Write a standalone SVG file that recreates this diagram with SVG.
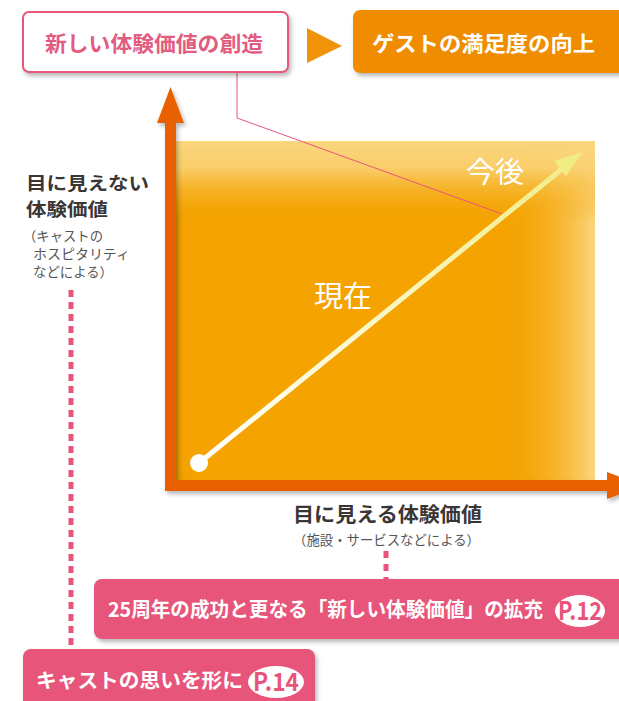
<svg xmlns="http://www.w3.org/2000/svg" width="619" height="701" viewBox="0 0 619 701">
<defs>
<style>
.jp{font-family:"Noto Sans CJK JP","Noto Sans",sans-serif}
.b{font-weight:700}
.dark{fill:#3a3636}
.wt{fill:#ffffff}
.pk{fill:#e8547a}
.sm{fill:#555555;font-size:13.5px}
</style>
<filter id="sh" x="-10%" y="-20%" width="125%" height="150%">
<feDropShadow dx="2" dy="3" stdDeviation="2" flood-color="#000" flood-opacity="0.28"/>
</filter>
<linearGradient id="vg" x1="0" y1="0" x2="0" y2="1">
<stop offset="0" stop-color="#fbd67e" stop-opacity="1"/>
<stop offset="0.08" stop-color="#fad275" stop-opacity="0.9"/>
<stop offset="0.24" stop-color="#f4a300" stop-opacity="0"/>
</linearGradient>
<linearGradient id="hg" x1="0" y1="0" x2="1" y2="0">
<stop offset="0" stop-color="#d98a00" stop-opacity="0.6"/>
<stop offset="0.03" stop-color="#f4a300" stop-opacity="0"/>
<stop offset="0.77" stop-color="#f4a300" stop-opacity="0"/>
<stop offset="1" stop-color="#fbd67e" stop-opacity="1"/>
</linearGradient>
<linearGradient id="ag" gradientUnits="userSpaceOnUse" x1="199" y1="463" x2="583" y2="152">
<stop offset="0" stop-color="#ffffff"/>
<stop offset="1" stop-color="#f2ec84"/>
</linearGradient>
</defs>
<rect width="619" height="701" fill="#ffffff"/>

<g id="chart-area">
<rect x="176" y="141" width="419" height="340" fill="#f4a300"/>
<rect x="176" y="141" width="419" height="340" fill="url(#hg)"/>
<rect x="176" y="141" width="419" height="340" fill="url(#vg)"/>
</g>

<g id="connectors">
<path d="M237,72 V118 L502,214" fill="none" stroke="#e8547a" stroke-width="1"/>
<line x1="71" y1="290" x2="71" y2="646" stroke="#e8547a" stroke-width="5" stroke-dasharray="7 5"/>
<line x1="386" y1="551" x2="386" y2="579" stroke="#e8547a" stroke-width="5" stroke-dasharray="7 6"/>
<polygon points="307,28 342,46 307,63" fill="#f0930a"/>
<g id="axes" filter="url(#sh)">
<rect x="165" y="120" width="11" height="371" fill="#e86100"/>
<polygon points="170.5,87 184,123 157,123" fill="#e86100"/>
<rect x="165" y="480" width="445" height="11" fill="#e86100"/>
<polygon points="607,472 643,485.5 607,499" fill="#e86100"/>
</g>
<line x1="199" y1="463" x2="562" y2="169" stroke="url(#ag)" stroke-width="5"/>
<polygon points="583,152 566,176 554,161" fill="#f2ec84"/>
<circle cx="199" cy="463" r="9" fill="#ffffff"/>
</g>

<g id="label-now">
<text x="343" y="307" class="jp wt" font-size="29" text-anchor="middle">現在</text>
</g>
<g id="label-future">
<text x="495" y="183" class="jp wt" font-size="29" text-anchor="middle">今後</text>
</g>

<g id="node-new-value">
<rect x="23" y="12" width="265" height="60" rx="6" fill="#ffffff" stroke="#e8567a" stroke-width="2" filter="url(#sh)"/>
<text x="154" y="51" class="jp b" fill="#e45b80" font-size="21" text-anchor="middle" textLength="218" lengthAdjust="spacingAndGlyphs">新しい体験価値の創造</text>
</g>

<g id="node-guest">
<rect x="353" y="10" width="280" height="63" rx="7" fill="#f08c00" filter="url(#sh)"/>
<text x="372" y="51" class="jp b wt" font-size="21" textLength="223" lengthAdjust="spacingAndGlyphs">ゲストの満足度の向上</text>
</g>

<g id="label-invisible">
<text x="26" y="190" class="jp b dark" font-size="18" textLength="123" lengthAdjust="spacingAndGlyphs">目に見えない</text>
<text x="26" y="216" class="jp b dark" font-size="18" textLength="82" lengthAdjust="spacingAndGlyphs">体験価値</text>
<text x="23" y="241" class="jp sm" textLength="80" lengthAdjust="spacingAndGlyphs">（キャストの</text>
<text x="33" y="259" class="jp sm" textLength="97" lengthAdjust="spacingAndGlyphs">ホスピタリティ</text>
<text x="33" y="277" class="jp sm" textLength="80" lengthAdjust="spacingAndGlyphs">などによる）</text>
</g>

<g id="label-visible">
<text x="293" y="522" class="jp b dark" font-size="20" textLength="189" lengthAdjust="spacingAndGlyphs">目に見える体験価値</text>
<text x="293" y="545" class="jp sm" textLength="187" lengthAdjust="spacingAndGlyphs">（施設・サービスなどによる）</text>
</g>

<g id="node-p12">
<rect x="94" y="579" width="540" height="60" rx="8" fill="#e8547a" filter="url(#sh)"/>
<text x="108" y="617" class="jp b wt" font-size="20" textLength="435" lengthAdjust="spacingAndGlyphs">25周年の成功と更なる「新しい体験価値」の拡充</text>
<ellipse cx="580" cy="611" rx="25" ry="16" fill="#ffffff"/>
<text x="580" y="620" class="jp b pk" font-size="25" text-anchor="middle" textLength="44" lengthAdjust="spacingAndGlyphs">P.12</text>
</g>

<g id="node-p14">
<rect x="23" y="649" width="292" height="70" rx="8" fill="#e8547a" filter="url(#sh)"/>
<text x="36" y="688" class="jp b wt" font-size="20" textLength="207" lengthAdjust="spacingAndGlyphs">キャストの思いを形に</text>
<ellipse cx="276" cy="682" rx="28" ry="16" fill="#ffffff"/>
<text x="276" y="691" class="jp b pk" font-size="25" text-anchor="middle" textLength="46" lengthAdjust="spacingAndGlyphs">P.14</text>
</g>
</svg>
